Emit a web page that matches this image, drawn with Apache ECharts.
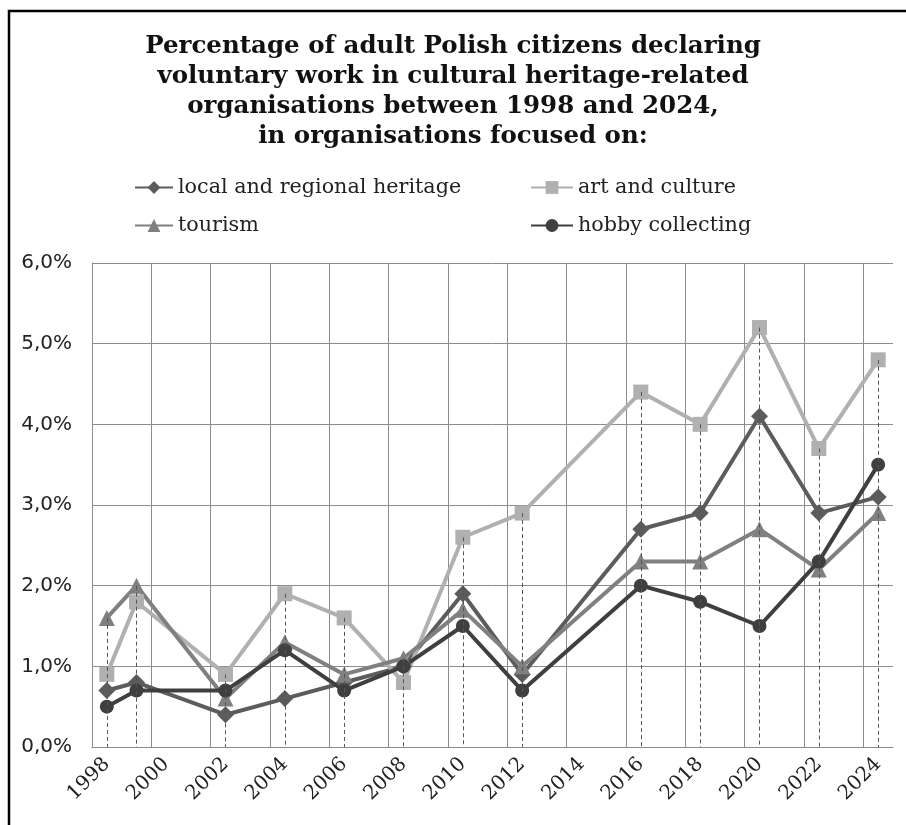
<!DOCTYPE html>
<html>
<head>
<meta charset="utf-8">
<script src="https://cdn.jsdelivr.net/npm/echarts@6/dist/echarts.min.js"></script>
<style>
  html, body { margin: 0; padding: 0; background: #fff; }
  #chart { width: 906px; height: 825px; }
</style>
</head>
<body>
<div id="chart"></div>
<script>
// survey years (second survey was in 1999, no survey in 2014)
var years = [1998, 1999, 2002, 2004, 2006, 2008, 2010, 2012, 2016, 2018, 2020, 2022, 2024];
// even years shown as tick labels
var tickYears = [1998, 2000, 2002, 2004, 2006, 2008, 2010, 2012, 2014, 2016, 2018, 2020, 2022, 2024];

var localHeritage = [0.7, 0.8, 0.4, 0.6, 0.8, 1.0, 1.9, 0.9, 2.7, 2.9, 4.1, 2.9, 3.1];
var artCulture    = [0.9, 1.8, 0.9, 1.9, 1.6, 0.8, 2.6, 2.9, 4.4, 4.0, 5.2, 3.7, 4.8];
var tourism       = [1.6, 2.0, 0.6, 1.3, 0.9, 1.1, 1.7, 1.0, 2.3, 2.3, 2.7, 2.2, 2.9];
var hobby         = [0.5, 0.7, 0.7, 1.2, 0.7, 1.0, 1.5, 0.7, 2.0, 1.8, 1.5, 2.3, 3.5];

var names = ['local and regional heritage', 'art and culture', 'tourism', 'hobby collecting'];

var myChart = echarts.init(document.getElementById('chart'));

function pairs(vals) {
    return vals.map(function (v, i) { return [years[i], v]; });
}

// drop lines from the highest point of each year down to the axis
var dropLines = years.map(function (y, i) {
    var top = Math.max(localHeritage[i], artCulture[i], tourism[i], hobby[i]);
    return [{ coord: [y, top] }, { coord: [y, 0] }];
});

function makeSeries(name, vals, color, symbol, size) {
    return {
        name: name,
        type: 'line',
        xAxisIndex: 0,
        data: pairs(vals),
        symbol: symbol,
        symbolSize: size,
        lineStyle: { color: color, width: 4 },
        itemStyle: { color: color },
        emphasis: { disabled: true },
        animation: false
    };
}

var series = [
    makeSeries(names[0], localHeritage, '#5c5c5c', 'diamond', 17),
    makeSeries(names[1], artCulture, '#b0b0b0', 'rect', 15),
    makeSeries(names[2], tourism, '#808080', 'triangle', 16),
    makeSeries(names[3], hobby, '#3f3f3f', 'circle', 14)
];
series[0].markLine = {
    silent: true,
    symbol: 'none',
    label: { show: false },
    lineStyle: { color: '#555', width: 1, type: [4, 3] },
    data: dropLines,
    animation: false
};

var legendText = { fontFamily: 'DejaVu Serif', fontSize: 20.7, color: '#222' };

var option = {
    backgroundColor: '#fff',
    animation: false,
    title: {
        left: 'center',
        top: 27,
        text: 'Percentage of adult Polish citizens declaring\nvoluntary work in cultural heritage-related\norganisations between 1998 and 2024,\nin organisations focused on:',
        textStyle: {
            fontFamily: 'DejaVu Serif',
            fontWeight: 'bold',
            fontSize: 24.5,
            lineHeight: 30,
            color: '#111'
        }
    },
    legend: [{
        orient: 'vertical',
        left: 129,
        top: 172,
        itemWidth: 38,
        itemHeight: 16,
        itemGap: 17,
        data: [names[0], names[2]],
        textStyle: legendText
    }, {
        orient: 'vertical',
        left: 525,
        top: 172,
        itemWidth: 42,
        itemHeight: 16,
        itemGap: 17,
        data: [names[1], names[3]],
        textStyle: legendText
    }],
    graphic: [{
        type: 'rect',
        silent: true,
        shape: { x: 9, y: 11, width: 1200, height: 1200 },
        style: { fill: null, stroke: '#000', lineWidth: 2.5 }
    }],
    grid: {
        left: 92,
        right: 13,
        top: 263,
        bottom: 78,
        outerBoundsMode: 'none'
    },
    xAxis: [{
        // year axis: fine ticks so that the even years get a label
        type: 'value',
        min: 1997.5,
        max: 2024.5,
        interval: 0.5,
        axisLine: { show: true, lineStyle: { color: '#8c8c8c', width: 1 } },
        axisTick: { show: false },
        splitLine: { show: false },
        axisLabel: {
            rotate: 45,
            margin: 14,
            fontFamily: 'DejaVu Serif',
            fontSize: 20,
            color: '#222',
            showMinLabel: true,
            showMaxLabel: true,
            formatter: function (v) {
                return tickYears.indexOf(v) >= 0 ? String(v) : '';
            }
        }
    }, {
        // offset axis only for the vertical grid lines between labels
        type: 'value',
        position: 'bottom',
        min: 0,
        max: 27,
        interval: 2,
        axisLine: { show: false },
        axisTick: { show: false },
        axisLabel: { show: false },
        splitLine: { show: true, showMinLine: false, showMaxLine: false, lineStyle: { color: '#8c8c8c', width: 1 } }
    }],
    yAxis: {
        type: 'value',
        min: 0,
        max: 6,
        interval: 1,
        axisLine: { show: true, lineStyle: { color: '#8c8c8c', width: 1 } },
        axisTick: { show: false },
        splitLine: { show: true, lineStyle: { color: '#8c8c8c', width: 1 } },
        axisLabel: {
            margin: 20,
            fontFamily: 'DejaVu Sans',
            fontSize: 20,
            color: '#222',
            formatter: function (v) {
                return v.toFixed(1).replace('.', ',') + '%';
            }
        }
    },
    series: series
};

myChart.setOption(option);
</script>
</body>
</html>
